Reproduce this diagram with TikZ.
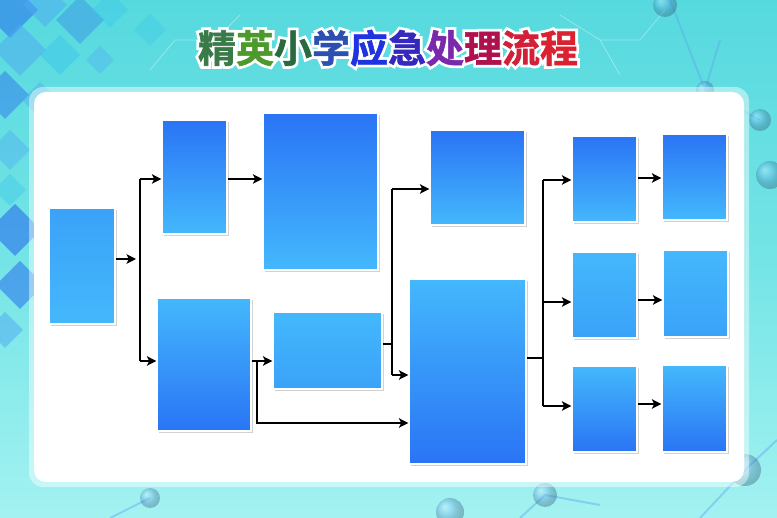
\documentclass[tikz,border=0pt]{standalone}
\usepackage{fontspec}
\newfontfamily\cjk{Noto Sans CJK SC}[BoldFont={* Bold}, BoldFeatures={RawFeature={embolden=1.5}}]
\newfontfamily\cjkglow{Noto Sans CJK SC}[BoldFont={* Bold}, BoldFeatures={RawFeature={embolden=16}}]
\usetikzlibrary{shadows,arrows.meta}
\definecolor{bgtop}{HTML}{56D9DE}
\definecolor{bgmid}{HTML}{74E4E6}
\definecolor{bgbot}{HTML}{A3F2F1}
\definecolor{bdark}{HTML}{2A74F5}
\definecolor{blight}{HTML}{44B8FC}
\definecolor{bmid}{HTML}{3AA2F8}
\definecolor{dmA}{HTML}{2F78EC}
\definecolor{dmB}{HTML}{4FA8F2}
\definecolor{dmC}{HTML}{3CC6EA}
\definecolor{molec}{HTML}{5FA8F0}
\definecolor{tA}{HTML}{3A7A48}
\definecolor{tB}{HTML}{4C9A2C}
\definecolor{tC}{HTML}{2A6A40}
\definecolor{tD}{HTML}{2C50B0}
\definecolor{tE}{HTML}{1F33E0}
\definecolor{tF}{HTML}{3528BE}
\definecolor{tG}{HTML}{7A28AC}
\definecolor{tH}{HTML}{B0104E}
\definecolor{tI}{HTML}{D22038}
\definecolor{tJ}{HTML}{DA2230}
\tikzset{
  fbox/.style={draw=white, line width=1.2pt, inner sep=0pt,
    drop shadow={shadow xshift=1.5pt, shadow yshift=-2pt, opacity=0.35, fill=gray}},
  gdown/.style={fbox, top color=bdark, bottom color=blight},
  gup/.style={fbox, top color=blight, bottom color=bdark},
  gsoft/.style={fbox, top color=bmid, bottom color=blight},
  gflat/.style={fbox, top color=blight, bottom color=bmid},
  arr/.style={-{Stealth[length=9.5pt,width=9.5pt,inset=2.2pt]}, line width=1.4pt, black},
  ln/.style={line width=1.4pt, black},
  ball/.style={ball color=molec, opacity=0.35},
  bond/.style={molec, line width=2pt, opacity=0.45},
  hexl/.style={white, line width=0.8pt, opacity=0.35}
}
\begin{document}
\begin{tikzpicture}[x=1pt,y=-1pt]
\useasboundingbox (0,0) rectangle (777,518);
% background
\shade[top color=bgtop, bottom color=bgbot, middle color=bgmid] (0,0) rectangle (777,518);
% diamonds at top left and left edge
\foreach \cx/\cy/\s/\c/\o in {
  10/10/28/dmA/0.6, 45/5/22/dmB/0.5, 80/20/24/dmA/0.35, 20/50/26/dmB/0.5,
  60/55/20/dmC/0.5, 110/10/18/dmC/0.4, 5/95/24/dmA/0.5, 40/100/18/dmB/0.4,
  150/30/16/dmC/0.35, 10/150/20/dmB/0.4, 15/230/26/dmA/0.65, 20/285/24/dmA/0.6,
  5/330/18/dmB/0.5, 10/190/16/dmC/0.4, 100/60/14/dmB/0.35}{
  \fill[\c, opacity=\o] (\cx,\cy-\s) -- (\cx+\s,\cy) -- (\cx,\cy+\s) -- (\cx-\s,\cy) -- cycle;
}
% faint hexagon lines near the title
\draw[hexl] (150,70) -- (175,40) -- (215,40) -- (240,15);
\draw[hexl] (560,15) -- (600,40) -- (640,40) -- (665,10);
\draw[hexl] (600,40) -- (620,75);
% molecule decorations
\draw[bond] (670,0) -- (705,90) -- (760,120);
\draw[bond] (705,90) -- (720,40);
\draw[bond] (745,470) -- (777,440);
\draw[bond] (700,518) -- (745,470);
\draw[bond] (520,518) -- (545,495) -- (600,505);
\draw[bond] (110,518) -- (150,498);
\shade[ball] (705,90) circle (9);
\shade[ball] (760,120) circle (11);
\shade[ball] (665,5) circle (12);
\shade[ball] (770,175) circle (14);
\shade[ball] (745,470) circle (16);
\shade[ball] (545,495) circle (12);
\shade[ball] (450,512) circle (14);
\shade[ball] (150,498) circle (10);
% title
\node[font=\cjkglow\bfseries\fontsize{38}{38}\selectfont, text=white, inner sep=0pt] (titleglow) at (388,48) {精英小学应急处理流程};
\node[font=\cjk\bfseries\fontsize{38}{38}\selectfont, inner sep=0pt] (title) at (388,48)
  {\textcolor{tA}{精}\textcolor{tB}{英}\textcolor{tC}{小}\textcolor{tD}{学}\textcolor{tE}{应}\textcolor{tF}{急}\textcolor{tG}{处}\textcolor{tH}{理}\textcolor{tI}{流}\textcolor{tJ}{程}};
% panel
\fill[white, opacity=0.45, rounded corners=14pt] (29,87) rectangle (749,487);
\fill[white, rounded corners=12pt] (34,92) rectangle (744,482);
% boxes
\node[gsoft, minimum width=66pt, minimum height=116pt] (A) at (82,266) {};
\node[gdown, minimum width=65pt, minimum height=114pt] (B1) at (194.5,177) {};
\node[gdown, minimum width=115pt, minimum height=157pt] (B2) at (320.5,191.5) {};
\node[gup, minimum width=94pt, minimum height=133pt] (C) at (204,364.5) {};
\node[gflat, minimum width=109pt, minimum height=77pt] (D) at (327.5,350.5) {};
\node[gdown, minimum width=95pt, minimum height=95pt] (E) at (477.5,177.5) {};
\node[gup, minimum width=117pt, minimum height=185pt] (F) at (467.5,371.5) {};
\node[gdown, minimum width=65pt, minimum height=86pt] (G1) at (604.5,179) {};
\node[gdown, minimum width=65pt, minimum height=86pt] (H1) at (694.5,177) {};
\node[gflat, minimum width=65pt, minimum height=86pt] (G2) at (604.5,295) {};
\node[gflat, minimum width=65pt, minimum height=87pt] (H2) at (695.5,293.5) {};
\node[gup, minimum width=65pt, minimum height=86pt] (G3) at (604.5,409) {};
\node[gup, minimum width=65pt, minimum height=87pt] (H3) at (694.5,408.5) {};
% connectors
\coordinate (a1) at (136,259);
\draw[arr] (A.east |- a1) -- (a1);
\coordinate (s1t) at (140,179);
\coordinate (s1b) at (140,361);
\draw[ln] (s1t) -- (s1b);
\draw[arr] (s1t) -- (B1.west |- s1t);
\draw[arr] (s1b) -- (C.west |- s1b);
\draw[arr] (B1.east |- s1t) -- (B2.west |- s1t);
\coordinate (cd) at (257,361);
\coordinate (c2) at (0,423);
\draw[arr] (C.east |- cd) -- (D.west |- cd);
\draw[arr] (cd) |- (F.west |- c2);
\coordinate (s2) at (392,344);
\coordinate (s2t) at (392,189);
\coordinate (s2b) at (392,375);
\draw[ln] (D.east |- s2) -- (s2);
\draw[ln] (s2t) -- (s2b);
\draw[arr] (s2t) -- (E.west |- s2t);
\draw[arr] (s2b) -- (F.west |- s2b);
\coordinate (s3) at (543,358);
\coordinate (s3t) at (543,180);
\coordinate (s3m) at (543,302);
\coordinate (s3b) at (543,406);
\draw[ln] (F.east |- s3) -- (s3);
\draw[ln] (s3t) -- (s3b);
\draw[arr] (s3t) -- (G1.west |- s3t);
\draw[arr] (s3m) -- (G2.west |- s3m);
\draw[arr] (s3b) -- (G3.west |- s3b);
\coordinate (h1) at (0,178);
\coordinate (h2) at (0,300);
\coordinate (h3) at (0,404);
\draw[arr] (G1.east |- h1) -- (H1.west |- h1);
\draw[arr] (G2.east |- h2) -- (H2.west |- h2);
\draw[arr] (G3.east |- h3) -- (H3.west |- h3);
\end{tikzpicture}
\end{document}
